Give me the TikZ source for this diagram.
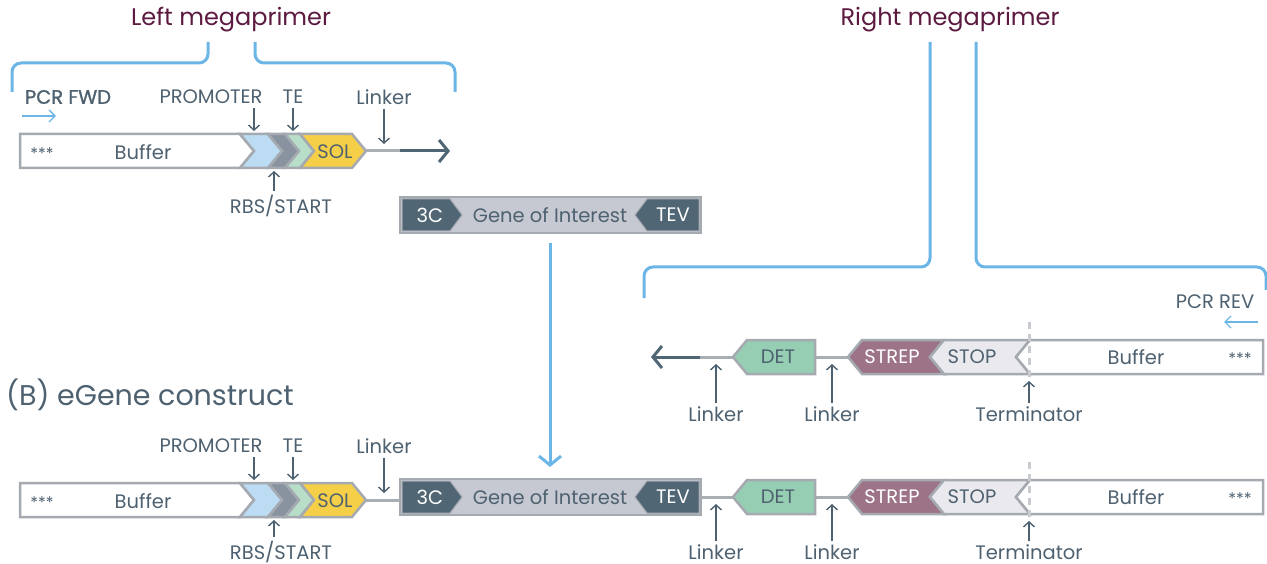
\documentclass[tikz,border=0pt]{standalone}
\usepackage{fontspec}
\setmainfont{Poppins}
\newfontfamily\semibfont[FakeBold=1.2]{Poppins}
\usetikzlibrary{arrows.meta}
\definecolor{slate}{HTML}{4E6170}
\definecolor{maroon}{HTML}{5C1A40}
\definecolor{bracket}{HTML}{6CB6E7}
\definecolor{outl}{HTML}{A5A9B0}
\definecolor{lblue}{HTML}{BCDCF3}
\definecolor{dgray}{HTML}{8993A0}
\definecolor{lgreen}{HTML}{B8DDC9}
\definecolor{yel}{HTML}{F6CF48}
\definecolor{detc}{HTML}{96CEB4}
\definecolor{strepc}{HTML}{9C7387}
\definecolor{stopc}{HTML}{EAEAEE}
\definecolor{darkc}{HTML}{506674}
\definecolor{genec}{HTML}{C6C9D1}
\definecolor{lnk}{HTML}{A9AEB5}
\definecolor{dashc}{HTML}{C8CBD0}
\begin{document}
\begin{tikzpicture}[x=1pt,y=-1pt,
  seg/.style={draw=outl, line width=2.5pt, line join=miter},
  lbl/.style={text=slate, font=\fontsize{19.5}{21}\selectfont, inner sep=0pt},
  wlbl/.style={text=white, font=\fontsize{19.5}{21}\selectfont, inner sep=0pt},
  stars/.style={text=slate, font=\fontsize{16}{17}\selectfont, inner sep=0pt},
  ttl/.style={text=maroon, font=\fontsize{24}{26}\selectfont, inner sep=0pt},
  ptr/.style={draw=slate, line width=1.4pt, -{Straight Barb[length=5pt,width=11pt]}},
  lnkline/.style={draw=lnk, line width=3pt},
  bigarr/.style={draw=darkc, line width=3pt, -{Straight Barb[length=9pt,width=22pt]}},
  bluearr/.style={draw=bracket, line width=1.4pt, -{Straight Barb[length=6pt,width=12pt]}},
  bluebr/.style={draw=bracket, line width=3pt, rounded corners=9pt},
  dashv/.style={draw=dashc, line width=3pt, dash pattern=on 7pt off 5pt}
]
\useasboundingbox (0,0) rectangle (1267,564);

% ---------- titles and brackets ----------
\node[ttl] (tleft) at (231,20) {Left megaprimer};
\node[ttl] (tright) at (950,20) {Right megaprimer};
\coordinate (lb1) at (12,92);
\coordinate (lb2) at (208,42);
\coordinate (lb3) at (255,42);
\coordinate (lb4) at (455,92);
\draw[bluebr] (lb1) |- (208,63) -- (lb2);
\draw[bluebr] (lb3) |- (455,63) -- (lb4);
\coordinate (rb1) at (644,298);
\coordinate (rb2) at (930,42);
\coordinate (rb3) at (976,42);
\coordinate (rb4) at (1266,290);
\draw[bluebr] (rb1) |- (930,267) -- (rb2);
\draw[bluebr] (rb3) |- (1266,267) -- (rb4);

% ---------- PCR primers ----------
\node[lbl, font=\fontsize{19.5}{21}\semibfont] (pcrf) at (68,97) {PCR FWD};
\coordinate (pf1) at (22,116); \coordinate (pf2) at (56,116);
\draw[bluearr] (pf1) -- (pf2);
\node[lbl] (pcrr) at (1215,302) {PCR REV};
\coordinate (pr1) at (1258,322); \coordinate (pr2) at (1224,322);
\draw[bluearr] (pr1) -- (pr2);

% ---------- top row: left megaprimer (yc=151) ----------
\path[seg, fill=white] (20,134) -- (240,134) -- (254,151) -- (240,168) -- (20,168) -- cycle;
\path[seg, fill=lblue] (240,134) -- (268,134) -- (282,151) -- (268,168) -- (240,168) -- (254,151) -- cycle;
\path[seg, fill=dgray] (268,134) -- (285,134) -- (299,151) -- (285,168) -- (268,168) -- (282,151) -- cycle;
\path[seg, fill=lgreen] (285,134) -- (300,134) -- (314,151) -- (300,168) -- (285,168) -- (299,151) -- cycle;
\path[seg, fill=yel] (300,134) -- (352,134) -- (366,151) -- (352,168) -- (300,168) -- (314,151) -- cycle;
\node[stars] (st1) at (42,154) {***};
\node[lbl] (buf1) at (143,152) {Buffer};
\node[lbl] (sol1) at (335,152) {SOL};
\coordinate (l1a) at (366,151); \coordinate (l1b) at (400,151); \coordinate (l1c) at (450,151);
\draw[lnkline] (l1a) -- (l1b);
\draw[bigarr] (l1b) -- (l1c);

\node[lbl] (prom1) at (211,97) {PROMOTER};
\node[lbl] (te1) at (293,97) {TE};
\node[lbl] (lk1) at (384,97) {Linker};
\node[lbl] (rbs1) at (281,206) {RBS/START};
\coordinate (ap1) at (254,131); \coordinate (at1) at (293,131); \coordinate (al1) at (384,144); \coordinate (ar1) at (274,171);
\draw[ptr] (prom1.south -| ap1) ++(0,4) -- (ap1);
\draw[ptr] (te1.south -| at1) ++(0,4) -- (at1);
\draw[ptr] (lk1.south -| al1) ++(0,4) -- (al1);
\draw[ptr] (rbs1.north -| ar1) ++(0,-4) -- (ar1);

% ---------- gene of interest (top) ----------
\path[seg, fill=genec] (400,197) rectangle (701,233);
\path[draw=outl, line width=1pt, fill=darkc] (402,199) -- (450,199) -- (462,215) -- (450,231) -- (402,231) -- cycle;
\path[draw=outl, line width=1pt, fill=darkc] (699,199) -- (647,199) -- (635,215) -- (647,231) -- (699,231) -- cycle;
\node[wlbl] (c3a) at (430,215) {3C};
\node[lbl] (goi1) at (550,215) {Gene of Interest};
\node[wlbl] (teva) at (673,215) {TEV};

% ---------- blue down arrow ----------
\coordinate (dn1) at (550,243); \coordinate (dn2) at (550,467);
\draw[draw=bracket, line width=3pt, -{Straight Barb[length=9pt,width=22pt]}] (dn1) -- (dn2);

% ---------- middle row: right megaprimer (yc=357) ----------
\coordinate (m1) at (733,357); \coordinate (m2) at (700,357); \coordinate (m3) at (651,357);
\draw[lnkline] (m1) -- (m2);
\draw[bigarr] (m2) -- (m3);
\coordinate (m4) at (815,357); \coordinate (m5) at (848,357);
\draw[lnkline] (m4) -- (m5);
\path[seg, fill=detc] (733,357) -- (747,340) -- (815,340) -- (815,374) -- (747,374) -- cycle;
\path[seg, fill=strepc] (848,357) -- (862,340) -- (944,340) -- (930,357) -- (944,374) -- (862,374) -- cycle;
\path[seg, fill=stopc] (930,357) -- (944,340) -- (1030,340) -- (1016,357) -- (1030,374) -- (944,374) -- cycle;
\path[seg, fill=white] (1016,357) -- (1030,340) -- (1263,340) -- (1263,374) -- (1030,374) -- cycle;
\coordinate (dm1) at (1029,322); \coordinate (dm2) at (1029,384);
\draw[dashv] (dm1) -- (dm2);
\node[lbl] (det2) at (778,357) {DET};
\node[wlbl] (strep2) at (892,357) {STREP};
\node[lbl] (stop2) at (972,357) {STOP};
\node[lbl] (buf2) at (1136,357) {Buffer};
\node[stars] (st2) at (1240,359) {***};
\node[lbl] (lk2a) at (716,414) {Linker};
\node[lbl] (lk2b) at (832,414) {Linker};
\node[lbl] (term2) at (1029,414) {Terminator};
\coordinate (a2a) at (716,364); \coordinate (a2b) at (832,364); \coordinate (a2c) at (1029,381);
\draw[ptr] (lk2a.north -| a2a) ++(0,-3) -- (a2a);
\draw[ptr] (lk2b.north -| a2b) ++(0,-3) -- (a2b);
\draw[ptr] (term2.north -| a2c) ++(0,-3) -- (a2c);

% ---------- (B) ----------
\node[text=slate, font=\fontsize{28.5}{31}\selectfont, inner sep=0pt] (bttl) at (150,395) {(B) eGene construct};

% ---------- bottom row ----------
\path[seg, fill=white] (20,483) -- (240,483) -- (254,500) -- (240,517) -- (20,517) -- cycle;
\path[seg, fill=lblue] (240,483) -- (268,483) -- (282,500) -- (268,517) -- (240,517) -- (254,500) -- cycle;
\path[seg, fill=dgray] (268,483) -- (285,483) -- (299,500) -- (285,517) -- (268,517) -- (282,500) -- cycle;
\path[seg, fill=lgreen] (285,483) -- (300,483) -- (314,500) -- (300,517) -- (285,517) -- (299,500) -- cycle;
\path[seg, fill=yel] (300,483) -- (352,483) -- (366,500) -- (352,517) -- (300,517) -- (314,500) -- cycle;
\node[stars] (st3) at (42,503) {***};
\node[lbl] (buf3) at (143,501) {Buffer};
\node[lbl] (sol3) at (335,501) {SOL};
\coordinate (b1) at (366,500); \coordinate (b2) at (400,500);
\draw[lnkline] (b1) -- (b2);

\path[seg, fill=genec] (400,479) rectangle (701,515);
\path[draw=outl, line width=1pt, fill=darkc] (402,481) -- (450,481) -- (462,497) -- (450,513) -- (402,513) -- cycle;
\path[draw=outl, line width=1pt, fill=darkc] (699,481) -- (647,481) -- (635,497) -- (647,513) -- (699,513) -- cycle;
\node[wlbl] (c3b) at (430,497) {3C};
\node[lbl] (goi3) at (550,497) {Gene of Interest};
\node[wlbl] (tevb) at (673,497) {TEV};

\coordinate (b3) at (701,497); \coordinate (b4) at (733,497);
\draw[lnkline] (b3) -- (b4);
\coordinate (b5) at (815,497); \coordinate (b6) at (848,497);
\draw[lnkline] (b5) -- (b6);
\path[seg, fill=detc] (733,497) -- (747,480) -- (815,480) -- (815,514) -- (747,514) -- cycle;
\path[seg, fill=strepc] (848,497) -- (862,480) -- (944,480) -- (930,497) -- (944,514) -- (862,514) -- cycle;
\path[seg, fill=stopc] (930,497) -- (944,480) -- (1030,480) -- (1016,497) -- (1030,514) -- (944,514) -- cycle;
\path[seg, fill=white] (1016,497) -- (1030,480) -- (1263,480) -- (1263,514) -- (1030,514) -- cycle;
\coordinate (db1) at (1029,462); \coordinate (db2) at (1029,524);
\draw[dashv] (db1) -- (db2);
\node[lbl] (det3) at (778,497) {DET};
\node[wlbl] (strep3) at (892,497) {STREP};
\node[lbl] (stop3) at (972,497) {STOP};
\node[lbl] (buf4) at (1136,497) {Buffer};
\node[stars] (st4) at (1240,499) {***};

\node[lbl] (prom3) at (211,446) {PROMOTER};
\node[lbl] (te3) at (293,446) {TE};
\node[lbl] (lk3) at (384,446) {Linker};
\node[lbl] (rbs3) at (281,552) {RBS/START};
\coordinate (ap3) at (254,480); \coordinate (at3) at (293,480); \coordinate (al3) at (384,493); \coordinate (ar3) at (274,520);
\draw[ptr] (prom3.south -| ap3) ++(0,4) -- (ap3);
\draw[ptr] (te3.south -| at3) ++(0,4) -- (at3);
\draw[ptr] (lk3.south -| al3) ++(0,4) -- (al3);
\draw[ptr] (rbs3.north -| ar3) ++(0,-4) -- (ar3);

\node[lbl] (lk4a) at (716,552) {Linker};
\node[lbl] (lk4b) at (832,552) {Linker};
\node[lbl] (term4) at (1029,552) {Terminator};
\coordinate (a4a) at (716,504); \coordinate (a4b) at (832,504); \coordinate (a4c) at (1029,521);
\draw[ptr] (lk4a.north -| a4a) ++(0,-3) -- (a4a);
\draw[ptr] (lk4b.north -| a4b) ++(0,-3) -- (a4b);
\draw[ptr] (term4.north -| a4c) ++(0,-3) -- (a4c);
\end{tikzpicture}
\end{document}
